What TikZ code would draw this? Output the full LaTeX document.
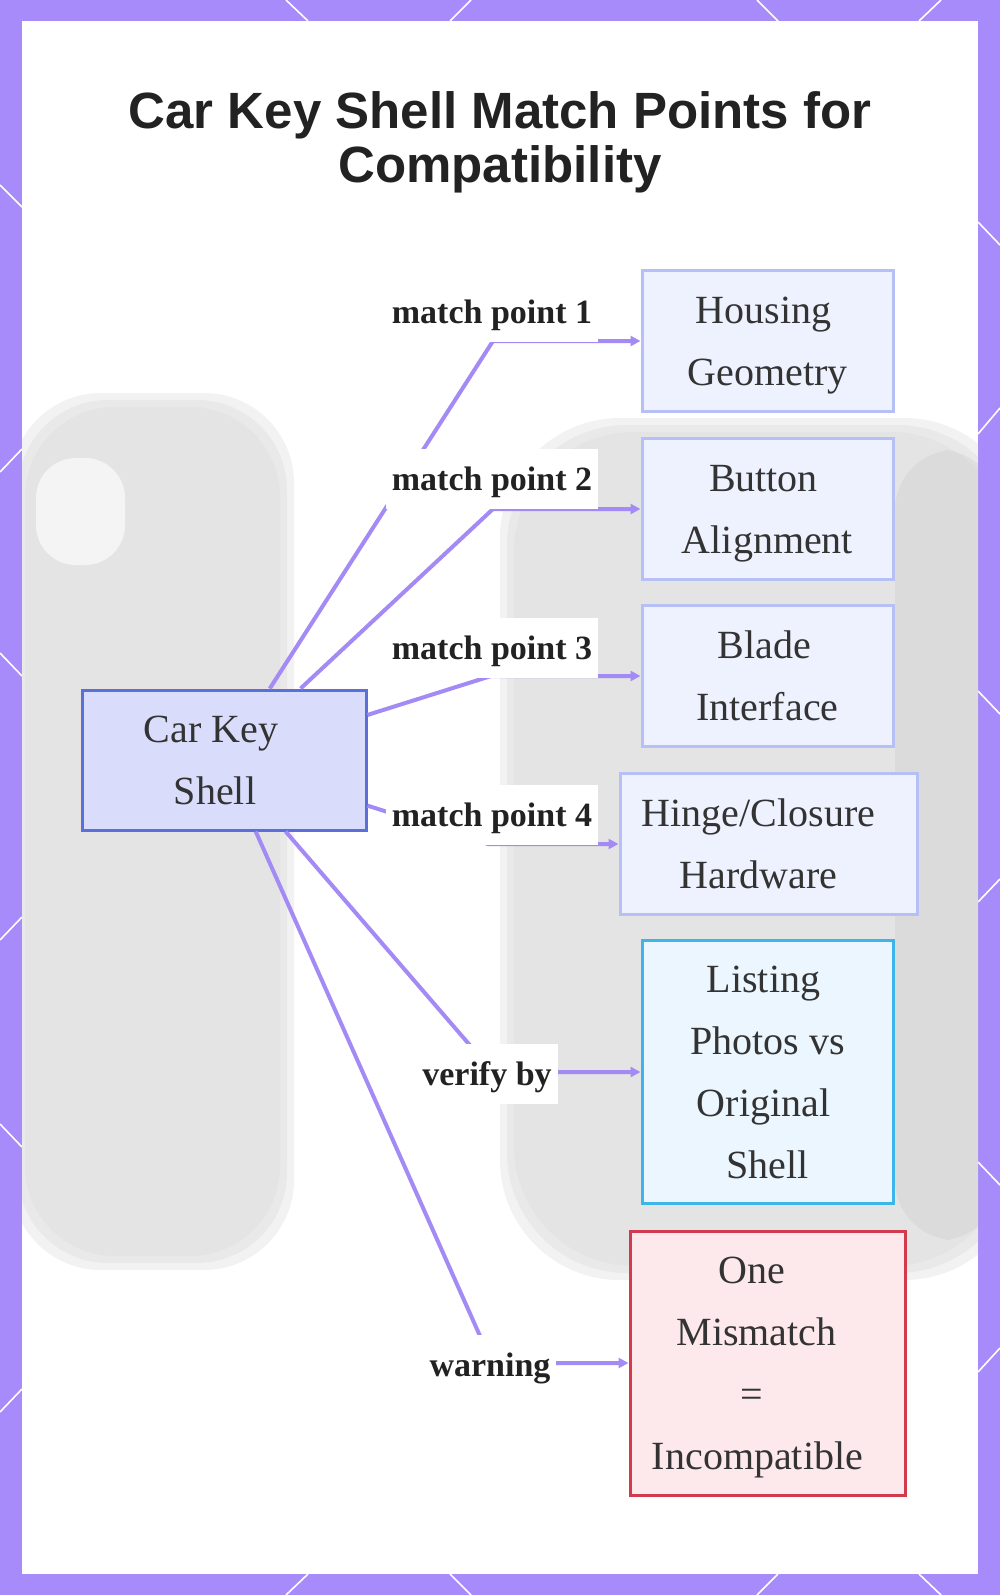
\documentclass[tikz,border=0pt]{standalone}
\usepackage{fontspec}
\setmainfont{Liberation Serif}
\newfontfamily\titlefont{Liberation Sans}
\usetikzlibrary{arrows.meta}

\definecolor{framepurple}{HTML}{A78BFA}
\definecolor{linkpurple}{HTML}{A38AF5}
\definecolor{textgray}{HTML}{333333}
\definecolor{titlegray}{HTML}{222222}
\definecolor{shellfill}{HTML}{D9DDFB}
\definecolor{shellline}{HTML}{5B6FD6}
\definecolor{pointfill}{HTML}{EEF1FE}
\definecolor{pointline}{HTML}{B6C0F6}
\definecolor{verifyfill}{HTML}{EBF6FE}
\definecolor{verifyline}{HTML}{3DB5EA}
\definecolor{warnfill}{HTML}{FDE9EC}
\definecolor{warnline}{HTML}{D23B4E}

\newcommand{\nudge}[1]{\kern#1pt}

\tikzset{
    keybox/.style={draw, line width=1.5pt, align=center, text=textgray,
        font=\fontsize{20}{31}\selectfont, inner sep=0pt},
    shellbox/.style={keybox, fill=shellfill, draw=shellline,
        minimum width=142pt, minimum height=70pt},
    pointbox/.style={keybox, fill=pointfill, draw=pointline,
        minimum width=125.5pt, minimum height=70.5pt},
    verifybox/.style={keybox, fill=verifyfill, draw=verifyline,
        minimum width=125.5pt, minimum height=131.5pt},
    warnbox/.style={keybox, fill=warnfill, draw=warnline,
        minimum width=137.5pt, minimum height=132pt},
    edgelabel/.style={fill=white, text=titlegray, inner xsep=3pt, inner ysep=0pt,
        minimum height=30pt, text height=15.5pt, text depth=3.7pt,
        font=\bfseries\fontsize{17}{20}\selectfont},
    link/.style={draw=linkpurple, line width=2pt,
        -{Triangle[length=5pt,width=5pt]}},
    blurshape/.style={fill=black!14, opacity=0.35}
}

\begin{document}
\begin{tikzpicture}[x=0.5pt,y=-0.5pt]
\useasboundingbox (0,0) rectangle (1000,1595);

\fill[framepurple] (0,0) rectangle (1000,1595);
\foreach \xa/\ya/\xb/\yb in {286/0/308/21, 471/0/450/21, 757/0/778/21, 941/0/919/21,
    286/1595/308/1574, 471/1595/450/1574, 757/1595/778/1574, 941/1595/919/1574,
    0/185/22/207, 0/472/22/449, 0/653/22/676, 0/940/22/917, 0/1124/22/1147, 0/1412/22/1389,
    978/222/1000/245, 978/434/1000/408, 978/691/1000/714, 978/902/1000/879,
    978/1162/1000/1185, 978/1372/1000/1348}
    \draw[white, line width=0.8pt] (\xa,\ya) -- (\xb,\yb);
\fill[white] (22,21) rectangle (978,1574);

\begin{scope}
\clip (22,21) rectangle (978,1574);
\foreach \d in {14,7,0} {
    \fill[blurshape, rounded corners=45pt] (25-\d,407-\d) rectangle (280+\d,1256+\d);
    \fill[blurshape, rounded corners=60pt] (514-\d,432-\d) rectangle (1010+\d,1266+\d);
}
\fill[white, opacity=0.6, rounded corners=20pt] (36,458) rectangle (125,565);
\fill[black, opacity=0.04, rounded corners=30pt] (895,450) rectangle (1000,1240);
\end{scope}

\node[font=\titlefont\bfseries\fontsize{25.5}{27}\selectfont, text=titlegray, align=center]
    (title) at (500,142) {Car Key Shell Match Points for\\Compatibility};

\node[shellbox] (cks) at (224,760) {Car Key\nudge{13}\\Shell\nudge{9}};
\node[pointbox, text depth=0pt] (housing) at (767.5,341) {Housing\nudge{4}\\Geometry};
\node[pointbox, text depth=0pt] (button) at (767.5,509) {Button\nudge{4}\\Alignment};
\node[pointbox] (blade) at (767.5,676) {Blade\nudge{3}\\Interface};
\node[pointbox, minimum width=148.5pt] (hinge) at (768.5,844) {Hinge/Closure\nudge{10}\\Hardware\nudge{10}};
\node[verifybox] (listing) at (767.5,1072) {Listing\nudge{4}\\Photos vs\\Original\nudge{4}\\Shell};
\node[warnbox, text depth=-1pt] (mismatch) at (767.5,1363)
    {One\nudge{16}\\Mismatch\nudge{11}\\=\nudge{16}\\Incompatible\nudge{10}};

\coordinate (b1) at (493,341);
\coordinate (b2) at (493,509);
\coordinate (b3) at (491,676);
\coordinate (b4) at (488,844);
\coordinate (b5) at (493,1072);
\coordinate (b6) at (492,1363);

\draw[link] (cks) -- (b1) -- (housing);
\draw[link] (cks) -- (b2) -- (button);
\draw[link] (cks) -- (b3) -- (blade);
\draw[link] (cks) -- (b4) -- (hinge);
\draw[link] (cks) -- (b5) -- (listing);
\draw[link] (cks) -- (b6) -- (mismatch);

\node[edgelabel] (l1) at (492,312) {match point 1};
\node[edgelabel] (l2) at (492,479) {match point 2};
\node[edgelabel] (l3) at (492,648) {match point 3};
\node[edgelabel] (l4) at (492,815) {match point 4};
\node[edgelabel] (l5) at (487,1074) {verify by};
\node[edgelabel] (l6) at (490,1365) {warning};
\end{tikzpicture}
\end{document}
